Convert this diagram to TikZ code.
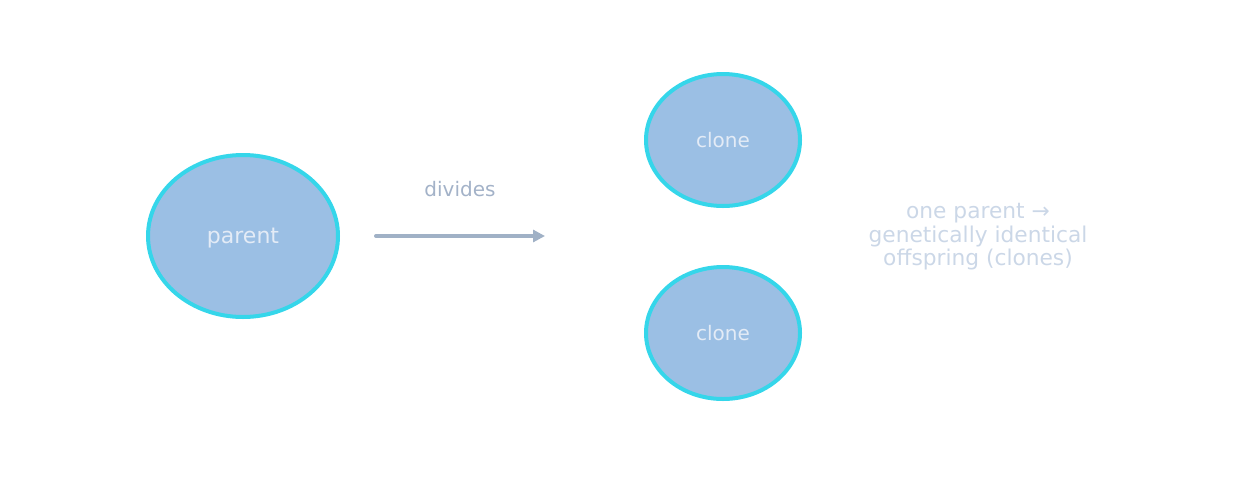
\documentclass[tikz,border=0pt]{standalone}
\usepackage{fontspec}
\setmainfont{DejaVu Sans}
\usetikzlibrary{shapes.geometric,arrows.meta}
\definecolor{cellfill}{HTML}{9BBFE4}
\definecolor{cellline}{HTML}{35D6EA}
\definecolor{celltext}{HTML}{E3EBF6}
\definecolor{arrowgray}{HTML}{A0B1C6}
\definecolor{labelgray}{HTML}{A3B2C8}
\definecolor{notegray}{HTML}{CBD7E7}

\begin{document}
\begin{tikzpicture}[x=0.75pt,y=-0.75pt]
    \tikzstyle{cell}=[ellipse,draw=cellline,fill=cellfill,line width=3pt,inner sep=0pt,text=celltext]
    \useasboundingbox (0,0) rectangle (1235,486);

    \node[cell,minimum width=142.5pt,minimum height=121.5pt,text depth=0pt,font=\fontsize{16.5}{20}\selectfont] (P) at (243,236) {parent};

    \foreach \num/\y in {1/140, 2/333}
        \node[cell,minimum width=115.5pt,minimum height=99pt,font=\fontsize{15}{18}\selectfont] (C-\num) at (723,\y) {clone};

    \coordinate (E) at (545,236);
    \draw[arrowgray,line width=3pt,line cap=round,shorten <=27pt,-{Triangle[length=9pt,width=9pt]}] (P.east) -- (E);
    \node[text=labelgray,font=\fontsize{15}{18}\selectfont] (L) at (460,189) {divides};

    \node[text=notegray,align=center,font=\fontsize{16.3}{17.6}\selectfont] (N) at (978,237) {one parent →\\genetically identical\\offspring (clones)};
\end{tikzpicture}
\end{document}
